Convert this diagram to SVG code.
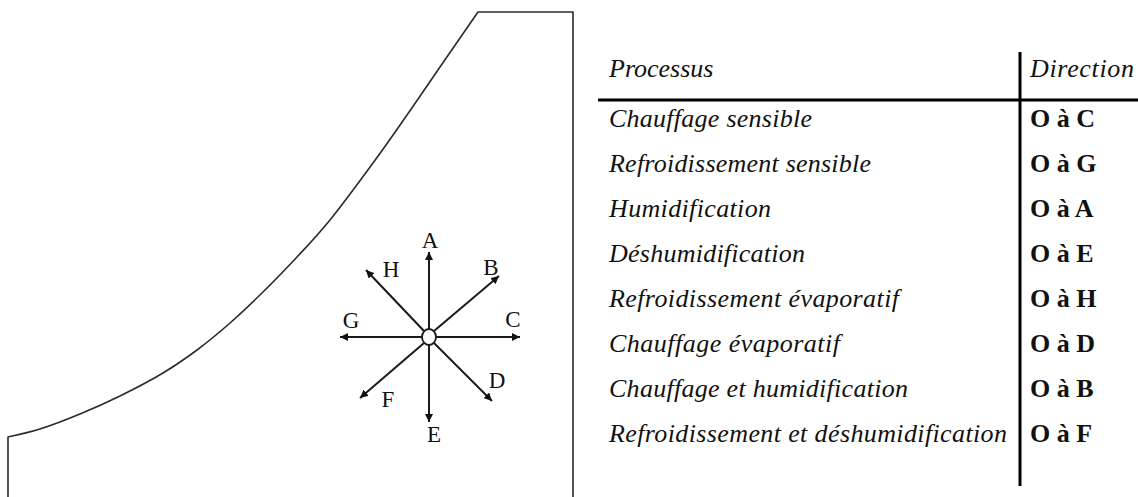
<svg xmlns="http://www.w3.org/2000/svg" width="1138" height="497" viewBox="0 0 1138 497">
<style>
.out{fill:none;stroke:#2a2a2a;stroke-width:1.6;stroke-linejoin:round}
.arr{fill:none;stroke:#1a1a1a;stroke-width:2}
.lbl{font-family:"Liberation Serif","Times New Roman",serif;font-size:23px;fill:#111}
.proc{font-family:"Liberation Serif","Times New Roman",serif;font-size:26px;font-style:italic;fill:#111}
.dir{font-family:"Liberation Serif","Times New Roman",serif;font-size:26px;font-weight:bold;fill:#111}
.rule{stroke:#000;stroke-width:3}
</style>
<defs>
<marker id="ah" markerUnits="userSpaceOnUse" markerWidth="9" markerHeight="8" refX="8" refY="4" orient="auto">
<path d="M0,0 L8,4 L0,8 z" fill="#111"/>
</marker>
</defs>
<rect width="1138" height="497" fill="#fff"/>
<g id="outline">
<path class="out" d="M8,497 L8,437 C13.3,435.7 28,432.8 40,429 C52,425.2 66.7,419.5 80,414 C93.3,408.5 106.2,402.8 120,396 C133.8,389.2 150.2,380.7 163,373 C175.8,365.3 185.8,358.3 197,350 C208.2,341.7 219,332.7 230,323 C241,313.3 251.8,303 263,292 C274.2,281 285.8,269 297,257 C308.2,245 317.3,235.7 330,220 C342.7,204.3 360.2,180.5 373,163 C385.8,145.5 395.8,131 407,115 C418.2,99 428.2,84.2 440,67 C451.8,49.8 471.7,21.2 478,12 L573,12 L573,497"/>
</g>
<g id="connectors">
<line class="arr" x1="429" y1="329" x2="429" y2="252" marker-end="url(#ah)"/>
<line class="arr" x1="429" y1="345" x2="429" y2="422" marker-end="url(#ah)"/>
<line class="arr" x1="422" y1="337" x2="340" y2="337" marker-end="url(#ah)"/>
<line class="arr" x1="436" y1="337" x2="520" y2="337" marker-end="url(#ah)"/>
<line class="arr" x1="424" y1="331" x2="366" y2="270" marker-end="url(#ah)"/>
<line class="arr" x1="434" y1="331" x2="499" y2="276" marker-end="url(#ah)"/>
<line class="arr" x1="424" y1="343" x2="360" y2="398" marker-end="url(#ah)"/>
<line class="arr" x1="434" y1="343" x2="492" y2="401" marker-end="url(#ah)"/>
</g>
<g id="node-O">
<ellipse cx="429" cy="337" rx="7" ry="8" fill="#fff" stroke="#1a1a1a" stroke-width="1.8"/>
</g>
<g id="labels">
<text class="lbl" x="430" y="248" text-anchor="middle">A</text>
<text class="lbl" x="491" y="275" text-anchor="middle">B</text>
<text class="lbl" x="513" y="327" text-anchor="middle">C</text>
<text class="lbl" x="497" y="388" text-anchor="middle">D</text>
<text class="lbl" x="434" y="442" text-anchor="middle">E</text>
<text class="lbl" x="388" y="407" text-anchor="middle">F</text>
<text class="lbl" x="351" y="328" text-anchor="middle">G</text>
<text class="lbl" x="391" y="277" text-anchor="middle">H</text>
</g>
<g id="table">
<line class="rule" x1="1020" y1="52" x2="1020" y2="486"/>
<line class="rule" x1="598" y1="100" x2="1138" y2="100"/>
<text class="proc" x="609" y="77">Processus</text>
<text class="proc" x="1030" y="77" textLength="104">Direction</text>
<g id="row1"><text class="proc" x="609" y="127" textLength="203">Chauffage sensible</text><text class="dir" x="1030" y="127">O à C</text></g>
<g id="row2"><text class="proc" x="609" y="172" textLength="262">Refroidissement sensible</text><text class="dir" x="1030" y="172">O à G</text></g>
<g id="row3"><text class="proc" x="609" y="217" textLength="162">Humidification</text><text class="dir" x="1030" y="217">O à A</text></g>
<g id="row4"><text class="proc" x="609" y="262" textLength="196">Déshumidification</text><text class="dir" x="1030" y="262">O à E</text></g>
<g id="row5"><text class="proc" x="609" y="307" textLength="290">Refroidissement évaporatif</text><text class="dir" x="1030" y="307">O à H</text></g>
<g id="row6"><text class="proc" x="609" y="352" textLength="231">Chauffage évaporatif</text><text class="dir" x="1030" y="352">O à D</text></g>
<g id="row7"><text class="proc" x="609" y="397" textLength="299">Chauffage et humidification</text><text class="dir" x="1030" y="397">O à B</text></g>
<g id="row8"><text class="proc" x="609" y="442" textLength="398">Refroidissement et déshumidification</text><text class="dir" x="1030" y="442">O à F</text></g>
</g>
</svg>
